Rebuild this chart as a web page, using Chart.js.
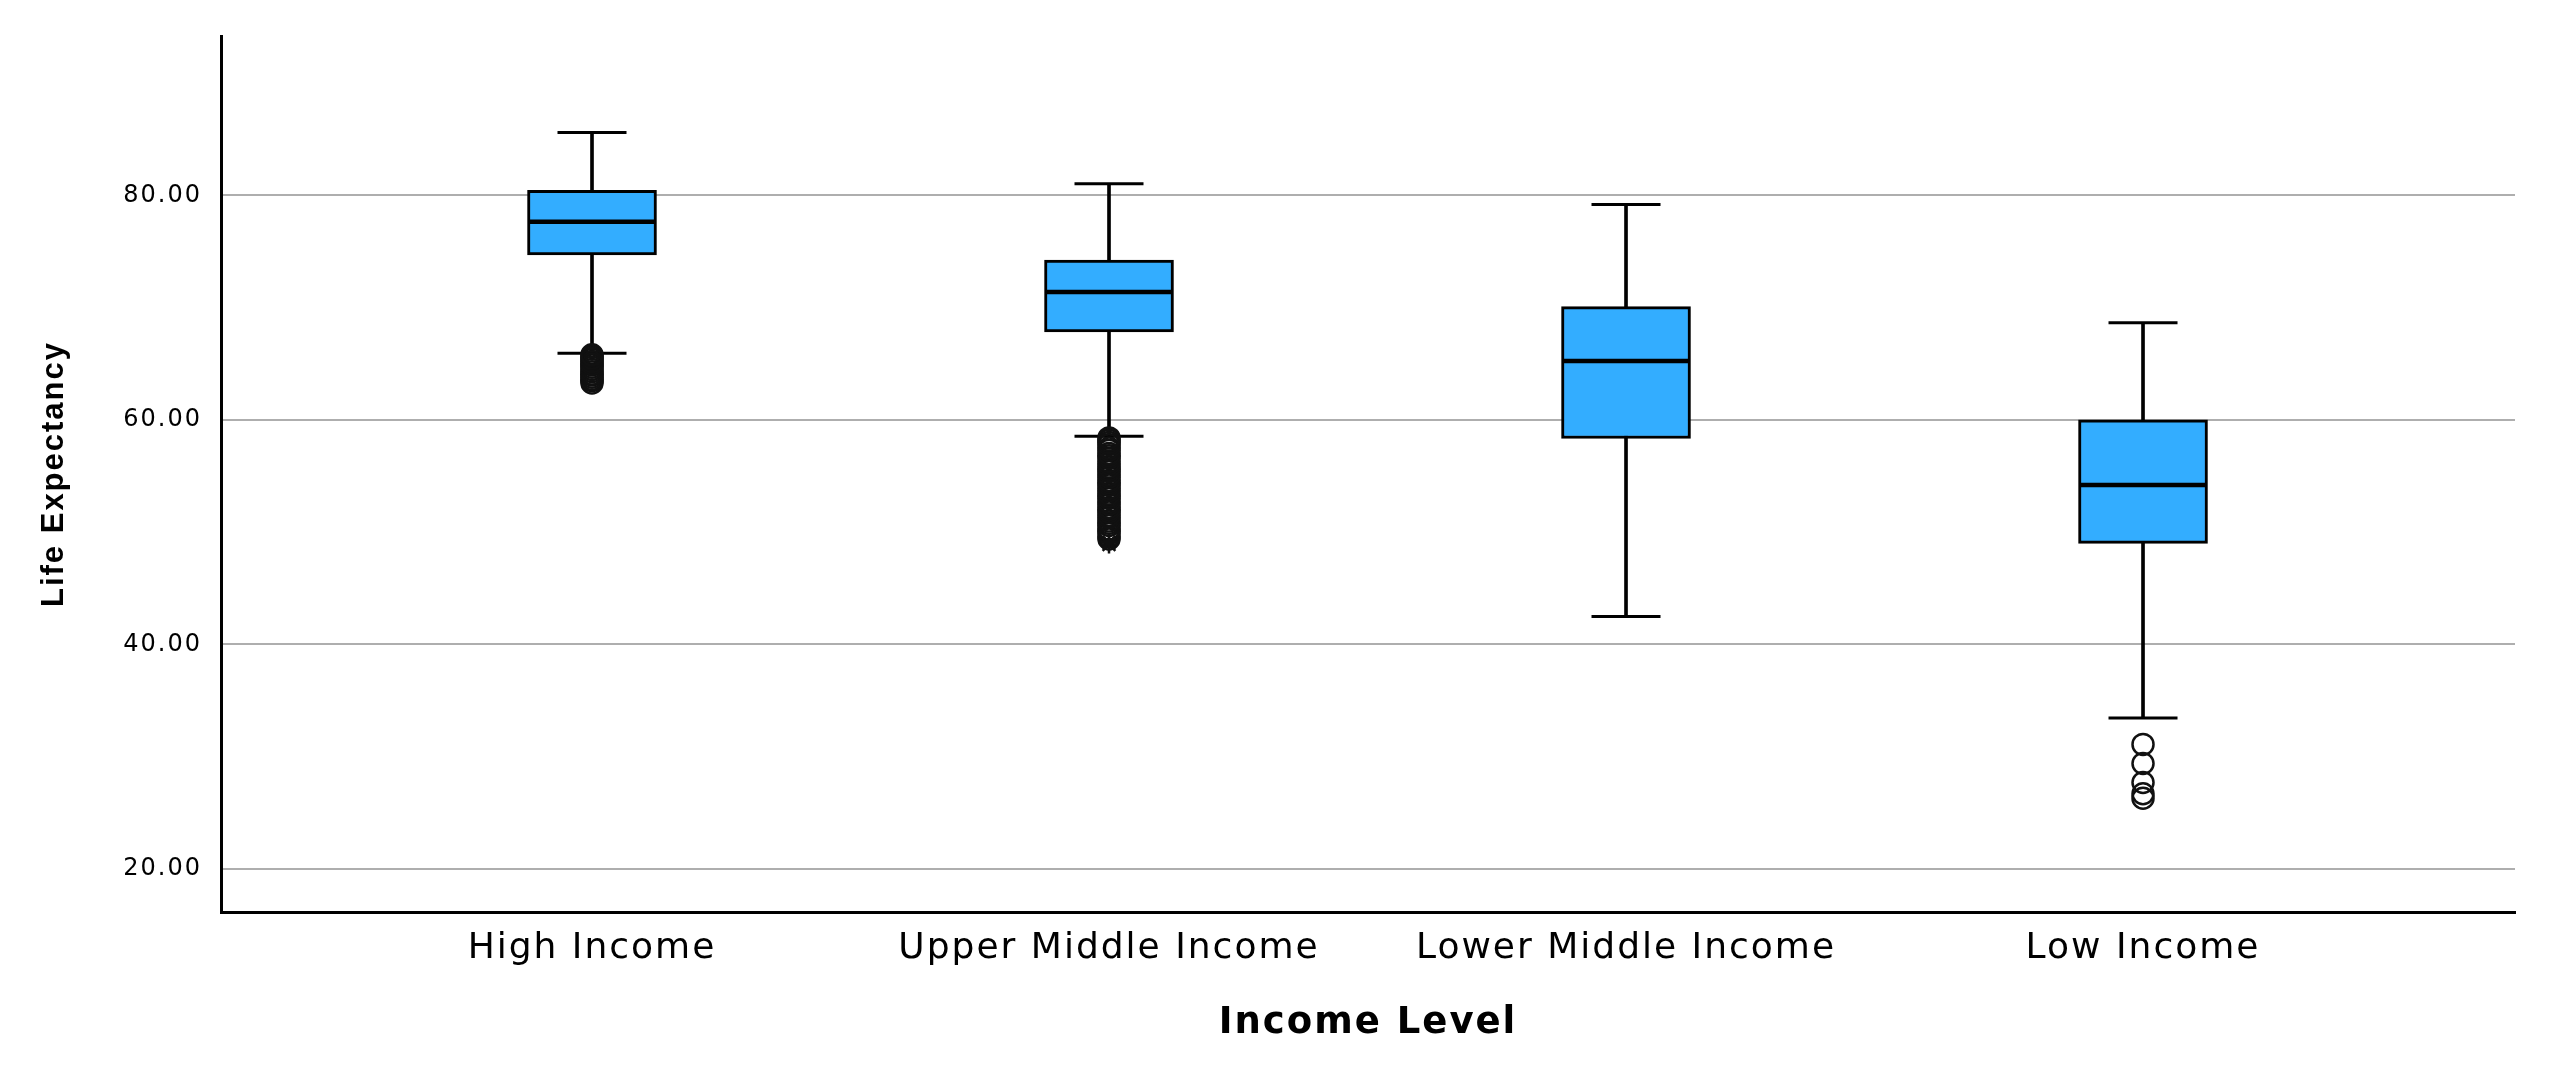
<!DOCTYPE html>
<html lang="en">
<head>
<meta charset="utf-8">
<title>Life Expectancy by Income Level</title>
<script src="https://cdn.jsdelivr.net/npm/chart.js@4/dist/chart.umd.min.js"></script>
<style>
    html, body { margin: 0; padding: 0; background: #ffffff; }
    #chart-wrapper { position: relative; width: 2567px; height: 1078px; }
</style>
</head>
<body>
<div id="chart-wrapper"><canvas id="boxChart"></canvas></div>
<script>
// Categories along the x axis
const categories = ['High Income', 'Upper Middle Income', 'Lower Middle Income', 'Low Income'];

// Box plot summary values, one per category
const whiskerLow = [65.95, 58.55, 42.5, 33.45];
const q1Values = [74.7, 67.85, 58.35, 49.0];
const medianValues = [77.65, 71.4, 65.25, 54.2];
const q3Values = [80.45, 74.25, 70.1, 60.0];
const whiskerHigh = [85.6, 81.05, 79.2, 68.65];

// Outliers (circles) and extremes (stars)
const outliersHigh = [63.3, 63.5, 63.6, 63.8, 64.0, 64.1, 64.3, 64.5, 64.7, 64.9, 65.0, 65.2, 65.4, 65.5, 65.7, 65.8];
const outliersUpperMiddle = [49.4, 49.6, 49.9, 50.1, 50.3, 50.6, 50.8, 51.0, 51.3, 51.5, 51.8, 52.0, 52.2, 52.5,
    52.7, 53.0, 53.2, 53.4, 53.7, 53.9, 54.2, 54.4, 54.6, 54.9, 55.1, 55.4, 55.6, 55.8, 56.1, 56.3, 56.6, 56.8,
    57.0, 57.3, 57.5, 57.8, 58.0, 58.2, 58.4];
const extremesUpperMiddle = [48.9, 49.1];
const outliersLow = [31.1, 29.4, 27.7, 26.7, 26.3];

// Y axis tick values
const yTicks = [20, 40, 60, 80];

(function() {
    'use strict';

    const boxColor = '#33adff';
    const lineColor = '#000000';

    /**
     * Turn a list of values into {x, y} points for one category
     */
    function pointsAt(index, values) {
        return values.map(function(v) {
            return { x: index, y: v };
        });
    }

    // Chart.js does not know letter spacing, so set it on the context
    const letterSpacingPlugin = {
        id: 'letterSpacing',
        beforeLayout: function(chart) { chart.ctx.letterSpacing = '2px'; },
        beforeDraw: function(chart) { chart.ctx.letterSpacing = '2px'; }
    };

    const stemData = categories.map(function(c, i) {
        return { x: i, y: [whiskerLow[i], whiskerHigh[i]] };
    });
    const boxData = categories.map(function(c, i) {
        return { x: i, y: [q1Values[i], q3Values[i]] };
    });
    const capData = [];
    categories.forEach(function(c, i) {
        capData.push({ x: i, y: whiskerLow[i] });
        capData.push({ x: i, y: whiskerHigh[i] });
    });
    const medianData = categories.map(function(c, i) {
        return { x: i, y: medianValues[i] };
    });
    const outlierData = pointsAt(0, outliersHigh)
        .concat(pointsAt(1, outliersUpperMiddle))
        .concat(pointsAt(3, outliersLow));
    const extremeData = pointsAt(1, extremesUpperMiddle);

    const ctx = document.getElementById('boxChart').getContext('2d');
    new Chart(ctx, {
        type: 'bar',
        data: {
            datasets: [{
                type: 'bar',
                label: 'Whiskers',
                data: stemData,
                backgroundColor: lineColor,
                borderWidth: 0,
                barThickness: 3,
                grouped: false,
                order: 6
            }, {
                type: 'bar',
                label: 'Boxes',
                data: boxData,
                backgroundColor: boxColor,
                borderColor: lineColor,
                borderWidth: 3,
                borderSkipped: false,
                barThickness: 129,
                grouped: false,
                order: 5
            }, {
                type: 'scatter',
                label: 'Caps',
                data: capData,
                pointStyle: 'line',
                pointRadius: 34.5,
                pointBorderWidth: 3,
                pointBorderColor: lineColor,
                order: 4
            }, {
                type: 'scatter',
                label: 'Medians',
                data: medianData,
                pointStyle: 'line',
                pointRadius: 63,
                pointBorderWidth: 4.5,
                pointBorderColor: lineColor,
                order: 3
            }, {
                type: 'scatter',
                label: 'Outliers',
                data: outlierData,
                pointStyle: 'circle',
                pointRadius: 10.5,
                pointBorderWidth: 2.5,
                pointBorderColor: '#111111',
                pointBackgroundColor: 'rgba(255, 255, 255, 0)',
                order: 2
            }, {
                type: 'scatter',
                label: 'Extremes',
                data: extremeData,
                pointStyle: 'star',
                pointRadius: 9,
                pointBorderWidth: 2.5,
                pointBorderColor: '#111111',
                order: 1
            }]
        },
        options: {
            responsive: true,
            maintainAspectRatio: false,
            animation: false,
            events: [],
            layout: {
                autoPadding: false,
                padding: { top: 36, right: 52, left: 0, bottom: 0 }
            },
            plugins: {
                legend: { display: false },
                tooltip: { enabled: false }
            },
            scales: {
                x: {
                    type: 'linear',
                    position: 'bottom',
                    offset: false,
                    min: -0.7176,
                    max: 3.7195,
                    grid: { display: false, drawTicks: false, offset: false },
                    border: { display: true, color: lineColor, width: 3 },
                    afterBuildTicks: function(scale) {
                        scale.ticks = categories.map(function(c, i) { return { value: i }; });
                    },
                    afterFit: function(scale) { scale.height = 166; },
                    ticks: {
                        autoSkip: false,
                        maxRotation: 0,
                        padding: 15.5,
                        color: '#000000',
                        font: { family: "'DejaVu Sans', sans-serif", size: 36 },
                        callback: function(value) {
                            return categories[value];
                        }
                    },
                    title: {
                        display: true,
                        text: 'Income Level',
                        color: '#000000',
                        padding: { top: 0, bottom: 32 },
                        font: { family: "'DejaVu Sans', sans-serif", size: 37, weight: 'bold' }
                    }
                },
                y: {
                    type: 'linear',
                    min: 16.17,
                    max: 94.2,
                    grid: { color: '#aeaeae', lineWidth: 2, drawTicks: false },
                    border: { display: true, color: lineColor, width: 3 },
                    afterBuildTicks: function(scale) {
                        scale.ticks = yTicks.map(function(v) { return { value: v }; });
                    },
                    afterFit: function(scale) { scale.width = 221; },
                    ticks: {
                        padding: 19,
                        color: '#000000',
                        font: { family: "'DejaVu Sans', sans-serif", size: 24 },
                        callback: function(value) {
                            return value.toFixed(2);
                        }
                    },
                    title: {
                        display: true,
                        text: 'Life Expectancy',
                        color: '#000000',
                        padding: { top: 36, bottom: 0 },
                        font: { family: "'Liberation Sans', Arial, sans-serif", size: 31, weight: 'bold' }
                    }
                }
            }
        },
        plugins: [letterSpacingPlugin]
    });
})();
</script>
</body>
</html>
